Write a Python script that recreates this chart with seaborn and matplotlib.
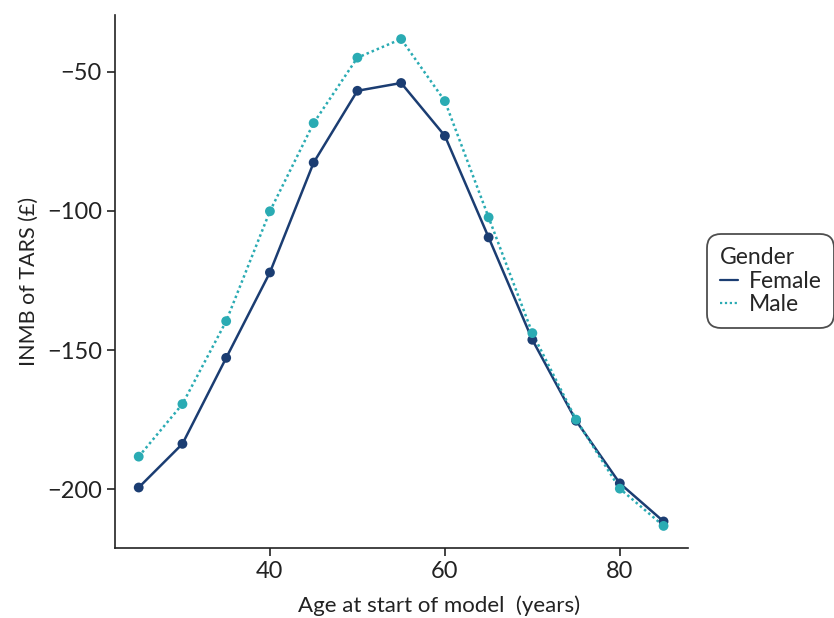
import matplotlib
matplotlib.use("Agg")
import matplotlib.pyplot as plt
import seaborn as sns
import pandas as pd

ages = [25, 30, 35, 40, 45, 50, 55, 60, 65, 70, 75, 80, 85]
female = [-199.4, -183.7, -152.8, -122.1, -82.6, -56.8, -54.0, -73.0, -109.5, -146.3, -175.4, -197.9, -211.6]
male = [-188.3, -169.4, -139.6, -100.1, -68.4, -44.9, -38.2, -60.5, -102.3, -143.9, -175.0, -199.8, -213.2]
genders = ["Female", "Male"]
yticks = [-50, -100, -150, -200]
xticks = [40, 60, 80]

df = pd.DataFrame({
    "age": ages * 2,
    "inmb": female + male,
    "Gender": ["Female"] * len(ages) + ["Male"] * len(ages),
})

sns.set_style("ticks")
plt.rcParams["font.family"] = ["Lato", "DejaVu Sans"]

fig = plt.figure(figsize=(8.34, 6.18), dpi=100)
ax = fig.add_axes([0.138, 0.113, 0.687, 0.863])

palette = {"Female": "#1b3d72", "Male": "#2aabb3"}
sns.lineplot(data=df, x="age", y="inmb", hue="Gender", style="Gender",
             palette=palette, dashes={"Female": "", "Male": (1, 1.2)},
             linewidth=1.8, ax=ax, legend=False)
sns.scatterplot(data=df, x="age", y="inmb", hue="Gender", palette=palette,
                s=50, edgecolor="none", ax=ax, legend=False, zorder=3)

ax.set_xlim(22.3, 87.8)
ax.set_ylim(-221.2, -29.5)
ax.set_xticks(xticks)
ax.set_yticks(yticks)
ax.set_yticklabels(["\u221250", "\u2212100", "\u2212150", "\u2212200"])
ax.tick_params(labelsize=17, width=1.2, length=6, color="#222222", labelcolor="#222222")
ax.set_xlabel("Age at start of model  (years)", fontsize=16, color="#222222")
ax.xaxis.set_label_coords(0.565, -0.089)
ax.set_ylabel("INMB of TARS (\u00a3)", fontsize=15.5, color="#222222", labelpad=6)
for sp in ["left", "bottom"]:
    ax.spines[sp].set_linewidth(1.2)
    ax.spines[sp].set_color("#222222")
sns.despine(ax=ax)

from matplotlib.lines import Line2D
handles = [Line2D([], [], color=palette["Female"], lw=1.6, linestyle="-"),
           Line2D([], [], color=palette["Male"], lw=1.6, linestyle=(0, (1, 1.2)))]
leg = fig.legend(handles, genders, title="Gender", loc="center left",
                 bbox_to_anchor=(0.848, 0.545), borderaxespad=0,
                 fontsize=16.5, title_fontsize=16.5,
                 frameon=True, fancybox=True, edgecolor="#222222",
                 handlelength=0.8, handletextpad=0.45, borderpad=0.55,
                 labelspacing=0.12, alignment="left")
leg.get_frame().set_linewidth(1.3)
leg.get_frame().set_boxstyle("round", pad=0, rounding_size=0.6)

fig.savefig("out.png", dpi=100)
